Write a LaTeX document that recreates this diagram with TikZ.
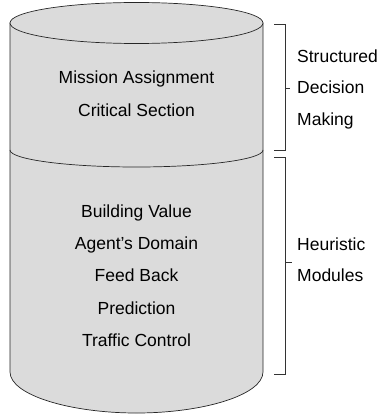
\documentclass[tikz,border=0pt]{standalone}
\usepackage{fontspec}
\setmainfont{Liberation Sans}
\usetikzlibrary{positioning}
\tikzset{
  tank/.style ={draw=black!85, fill=black!14, line width=0.7pt},
  item/.style ={font=\fontsize{17.5}{20}\selectfont, inner sep=0pt, text height=13pt, text depth=4pt},
  tag/.style  ={item, anchor=west},
  brk/.style  ={draw=black!80, line width=0.8pt},
}

\begin{document}
\begin{tikzpicture}[x=1pt,y=1pt,node distance=15pt]
  \useasboundingbox (0,0) rectangle (380,-417);
  % tank: body, lid and the split between the two layers
  \path[tank] (10,-23) -- (10,-372) .. controls (10,-395) and (70,-413) .. (136.5,-413)
    .. controls (203,-413) and (263,-395) .. (263,-372) -- (263,-23) -- cycle;
  \draw[tank] (136.5,-23) ellipse [x radius=126.5, y radius=20.5];
  \draw[tank, fill=none] (10,-150) arc[start angle=180, end angle=360, x radius=126.5, y radius=17];

  % upper layer
  \node[item] (mission) at (136.5,-79.5) {Mission Assignment};
  \node[item, below=of mission] (critical) {Critical Section};

  % lower layer
  \node[item] (building) at (136.5,-212.5) {Building Value};
  \node[item, below=of building] (domain) {Agent's Domain};
  \node[item, below=of domain] (feedback) {Feed Back};
  \node[item, below=of feedback] (predict) {Prediction};
  \node[item, below=of predict] (traffic) {Traffic Control};

  % labels on the right
  \node[tag] (struct) at (297,-58.5) {Structured};
  \node[tag, below=31pt of struct.west, anchor=west] (decision) {Decision};
  \node[tag, below=31pt of decision.west, anchor=west] (making) {Making};
  \node[tag] (heur) at (297,-245.5) {Heuristic};
  \node[tag, below=31pt of heur.west, anchor=west] (modules) {Modules};

  % brackets
  \draw[brk] (274,-24) -| (285,-150) -- (274,-150);
  \draw[brk] (285,-88) -- (290,-88);
  \draw[brk] (274,-157) -| (285,-374) -- (274,-374);
  \draw[brk] (285,-262) -- (292,-262);
\end{tikzpicture}
\end{document}
